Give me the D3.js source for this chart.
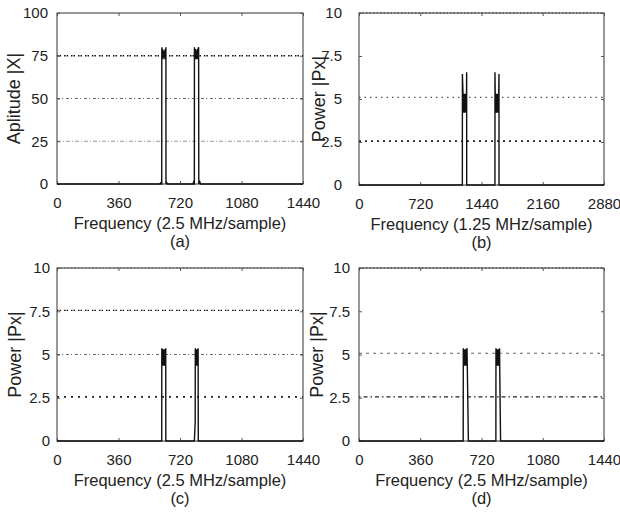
<!DOCTYPE html>
<html>
<head>
<meta charset="utf-8">
<script src="https://cdn.jsdelivr.net/npm/d3@7"></script>
<style>
  html, body { margin: 0; padding: 0; background: #fff; }
  svg { display: block; }
  text { font-family: "Liberation Sans", Arial, sans-serif; fill: #222; }
</style>
</head>
<body>
<svg id="chart" width="620" height="514"></svg>
<script>
// ---------------- DATA ----------------
const xTicksA = [0, 360, 720, 1080, 1440];
const xTicksB = [0, 720, 1440, 2160, 2880];
const yTicksAmp = [0, 25, 50, 75, 100];
const yTicksPow = [0, 2.5, 5, 7.5, 10];

const xLabelA = "Frequency (2.5 MHz/sample)";
const xLabelB = "Frequency (1.25 MHz/sample)";
const yLabelA = "Aplitude |X|";
const yLabelP = "Power |Px|";
const captions = ["(a)", "(b)", "(c)", "(d)"];

// reference (threshold) lines per panel
const refLinesA = [75, 50, 25];
const refLinesB = [10, 5.1, 2.55];
const refLinesC = [10, 7.55, 5, 2.55];
const refLinesD = [10, 5.07, 2.55];

// spectra: [frequency, value]
const seriesA = [
  [0,0],[300,0],[602,0],[606,0.6],[610,0],
  [613,0],[613.5,80],[616,73],[618,79],[620,73],[622,78],[624,74],[626,76],[628,74],[630,78],[632,73],[634,79],[636,73],[637.5,80],[638,0],[642,0.8],[646,0],
  [796,0],[800,1.2],[803,0],[804,0],[804.5,80],[807,73],[809,79],[811,73],[813,78],[815,74],[817,78],[819,73],[821,79],[823,73],[826,79],[829,80],[830,0],[834,2],[840,0],
  [1000,0],[1440,0]
];
const seriesB = [
  [0,0],[600,0],[1213,0],[1215,0],[1215.5,6.45],[1222,5.4],[1225,4.2],[1228,5.3],[1231,4.2],[1234,5.3],[1237,4.2],[1240,5.3],[1243,4.2],[1246,5.3],[1249,4.2],[1252,5.3],[1255,4.2],[1258,5.3],[1261,4.2],[1264,5.3],[1265.5,6.55],[1266,0],
  [1598,0],[1598.5,6.55],[1601,5.3],[1604,4.2],[1607,5.3],[1610,4.2],[1613,5.3],[1616,4.2],[1619,5.3],[1622,4.2],[1625,5.3],[1628,4.2],[1631,5.3],[1634,4.2],[1637,5.3],[1640,4.2],[1643,5.4],[1645.5,6.45],[1646,0],
  [2200,0],[2880,0]
];
const seriesC = [
  [0,0],[300,0],[612,0],[613,0],[613.5,5.36],[615.5,4.4],[617.5,5.3],[619.5,4.35],[621.5,5.3],[623.5,4.35],[625.5,5.1],[627.5,4.35],[629.5,5.3],[631.5,4.35],[633.5,5.3],[635.5,4.4],[636.5,5.36],[637,0],
  [800,0],[804,0],[809,1.1],[809.5,5.36],[811.5,4.4],[813.5,5.3],[815.5,4.35],[817.5,5.2],[819.5,4.35],[821.5,5.3],[823.5,4.4],[826,5.36],[827,0],
  [1000,0],[1440,0]
];
const seriesD = [
  [0,0],[300,0],[612.5,0],[613,5.36],[615,4.4],[617,5.3],[619,4.35],[621,5.3],[623,4.35],[625,5.1],[627,4.35],[629,5.3],[631,4.35],[633,5.3],[635,5.36],[643,0],
  [804.5,0],[805,5.36],[807,4.4],[809,5.3],[811,4.35],[813,5.2],[815,4.35],[817,5.3],[819,4.35],[821,5.3],[823,4.4],[826,5.36],[832,0],
  [1000,0],[1440,0]
];

// ---------------- LAYOUT / STYLE ----------------
const refStylesA = [
  {stroke:"#111", width:1.3, dash:"1.5,1,1.5,3"},
  {stroke:"#666", width:1.1, dash:"3,2,1,3"},
  {stroke:"#999", width:1, dash:"4,2,1,2"}
];
const refStylesB = [
  {stroke:"#333", width:1.2, dash:"1.5,2"},
  {stroke:"#555", width:1.2, dash:"1.5,4"},
  {stroke:"#222", width:1.6, dash:"2,4"}
];
const refStylesC = [
  {stroke:"#777", width:1.2, dash:"1.5,2"},
  {stroke:"#111", width:1.3, dash:"1.5,1,1.5,3"},
  {stroke:"#666", width:1.1, dash:"3,2,1,3"},
  {stroke:"#222", width:1.6, dash:"2,5"}
];
const refStylesD = [
  {stroke:"#333", width:1.2, dash:"1.5,2"},
  {stroke:"#666", width:1.1, dash:"3,4"},
  {stroke:"#222", width:1.4, dash:"1.5,3,4,3"}
];

const panels = [
  {left:57, right:303, top:13, bottom:184, xMax:1440, xTicks:xTicksA, yMax:100, yTicks:yTicksAmp,
   series:seriesA, refs:refLinesA, refStyles:refStylesA, xlabel:xLabelA, ylabel:yLabelA, cap:captions[0], yPad:9, yLabX:20},
  {left:359, right:604, top:13, bottom:185, xMax:2880, xTicks:xTicksB, yMax:10, yTicks:yTicksPow,
   series:seriesB, refs:refLinesB, refStyles:refStylesB, xlabel:xLabelB, ylabel:yLabelP, cap:captions[1], yPad:17, yLabX:325},
  {left:57, right:303, top:268, bottom:441, xMax:1440, xTicks:xTicksA, yMax:10, yTicks:yTicksPow,
   series:seriesC, refs:refLinesC, refStyles:refStylesC, xlabel:xLabelA, ylabel:yLabelP, cap:captions[2], yPad:7, yLabX:21},
  {left:359, right:604, top:268, bottom:441, xMax:1440, xTicks:xTicksA, yMax:10, yTicks:yTicksPow,
   series:seriesD, refs:refLinesD, refStyles:refStylesD, xlabel:xLabelA, ylabel:yLabelP, cap:captions[3], yPad:9, yLabX:323}
];

const svg = d3.select("#chart");

panels.forEach(p => {
  const x = d3.scaleLinear().domain([0, p.xMax]).range([p.left, p.right]);
  const y = d3.scaleLinear().domain([0, p.yMax]).range([p.bottom, p.top]);
  const g = svg.append("g");
  const w = p.right - p.left, h = p.bottom - p.top;

  // reference dotted lines
  p.refs.forEach((v, i) => {
    const s = p.refStyles[i];
    g.append("line")
      .attr("x1", x(0)).attr("x2", x(p.xMax))
      .attr("y1", y(v)).attr("y2", y(v))
      .attr("stroke", s.stroke).attr("stroke-width", s.width)
      .attr("stroke-dasharray", s.dash);
  });

  // border
  g.append("rect").attr("x", p.left).attr("y", p.top).attr("width", w).attr("height", h)
    .attr("fill", "none").attr("stroke", "#333").attr("stroke-width", 1);

  // axes with inward ticks
  const fmt = d => String(d);
  const ax = g.append("g").attr("transform", `translate(0,${p.bottom})`)
    .call(d3.axisBottom(x).tickValues(p.xTicks).tickFormat(fmt).tickSizeInner(-3).tickSizeOuter(0).tickPadding(13));
  const axT = g.append("g").attr("transform", `translate(0,${p.top})`)
    .call(d3.axisTop(x).tickValues(p.xTicks).tickFormat("").tickSizeInner(-3).tickSizeOuter(0));
  const ay = g.append("g").attr("transform", `translate(${p.left},0)`)
    .call(d3.axisLeft(y).tickValues(p.yTicks).tickFormat(fmt).tickSizeInner(-3).tickSizeOuter(0).tickPadding(p.yPad));
  const ayR = g.append("g").attr("transform", `translate(${p.right},0)`)
    .call(d3.axisRight(y).tickValues(p.yTicks).tickFormat("").tickSizeInner(-3).tickSizeOuter(0));
  [ax, axT, ay, ayR].forEach(a => {
    a.select(".domain").remove();
    a.selectAll(".tick line").attr("stroke", "#555");
    a.selectAll("text").style("font-size", "15px").attr("fill", "#222")
      .style("font-family", '"Liberation Sans", Arial, sans-serif');
  });
  ax.selectAll("text").attr("dy", null).attr("y", 24);

  // spectrum line
  const line = d3.line().x(d => x(d[0])).y(d => y(d[1]));
  g.append("path").datum(p.series)
    .attr("d", line).attr("fill", "none")
    .attr("stroke", "#111").attr("stroke-width", 1.4).attr("stroke-linejoin", "miter");

  // labels
  g.append("text").attr("x", (p.left + p.right) / 2).attr("y", p.bottom + 45)
    .attr("text-anchor", "middle").style("font-size", "16.5px").text(p.xlabel);
  g.append("text").attr("x", (p.left + p.right) / 2).attr("y", p.bottom + 63)
    .attr("text-anchor", "middle").style("font-size", "16.5px").text(p.cap);
  g.append("text")
    .attr("transform", `translate(${p.yLabX},${(p.top + p.bottom) / 2}) rotate(-90)`)
    .attr("text-anchor", "middle").style("font-size", "18px").text(p.ylabel);
});
</script>
</body>
</html>
